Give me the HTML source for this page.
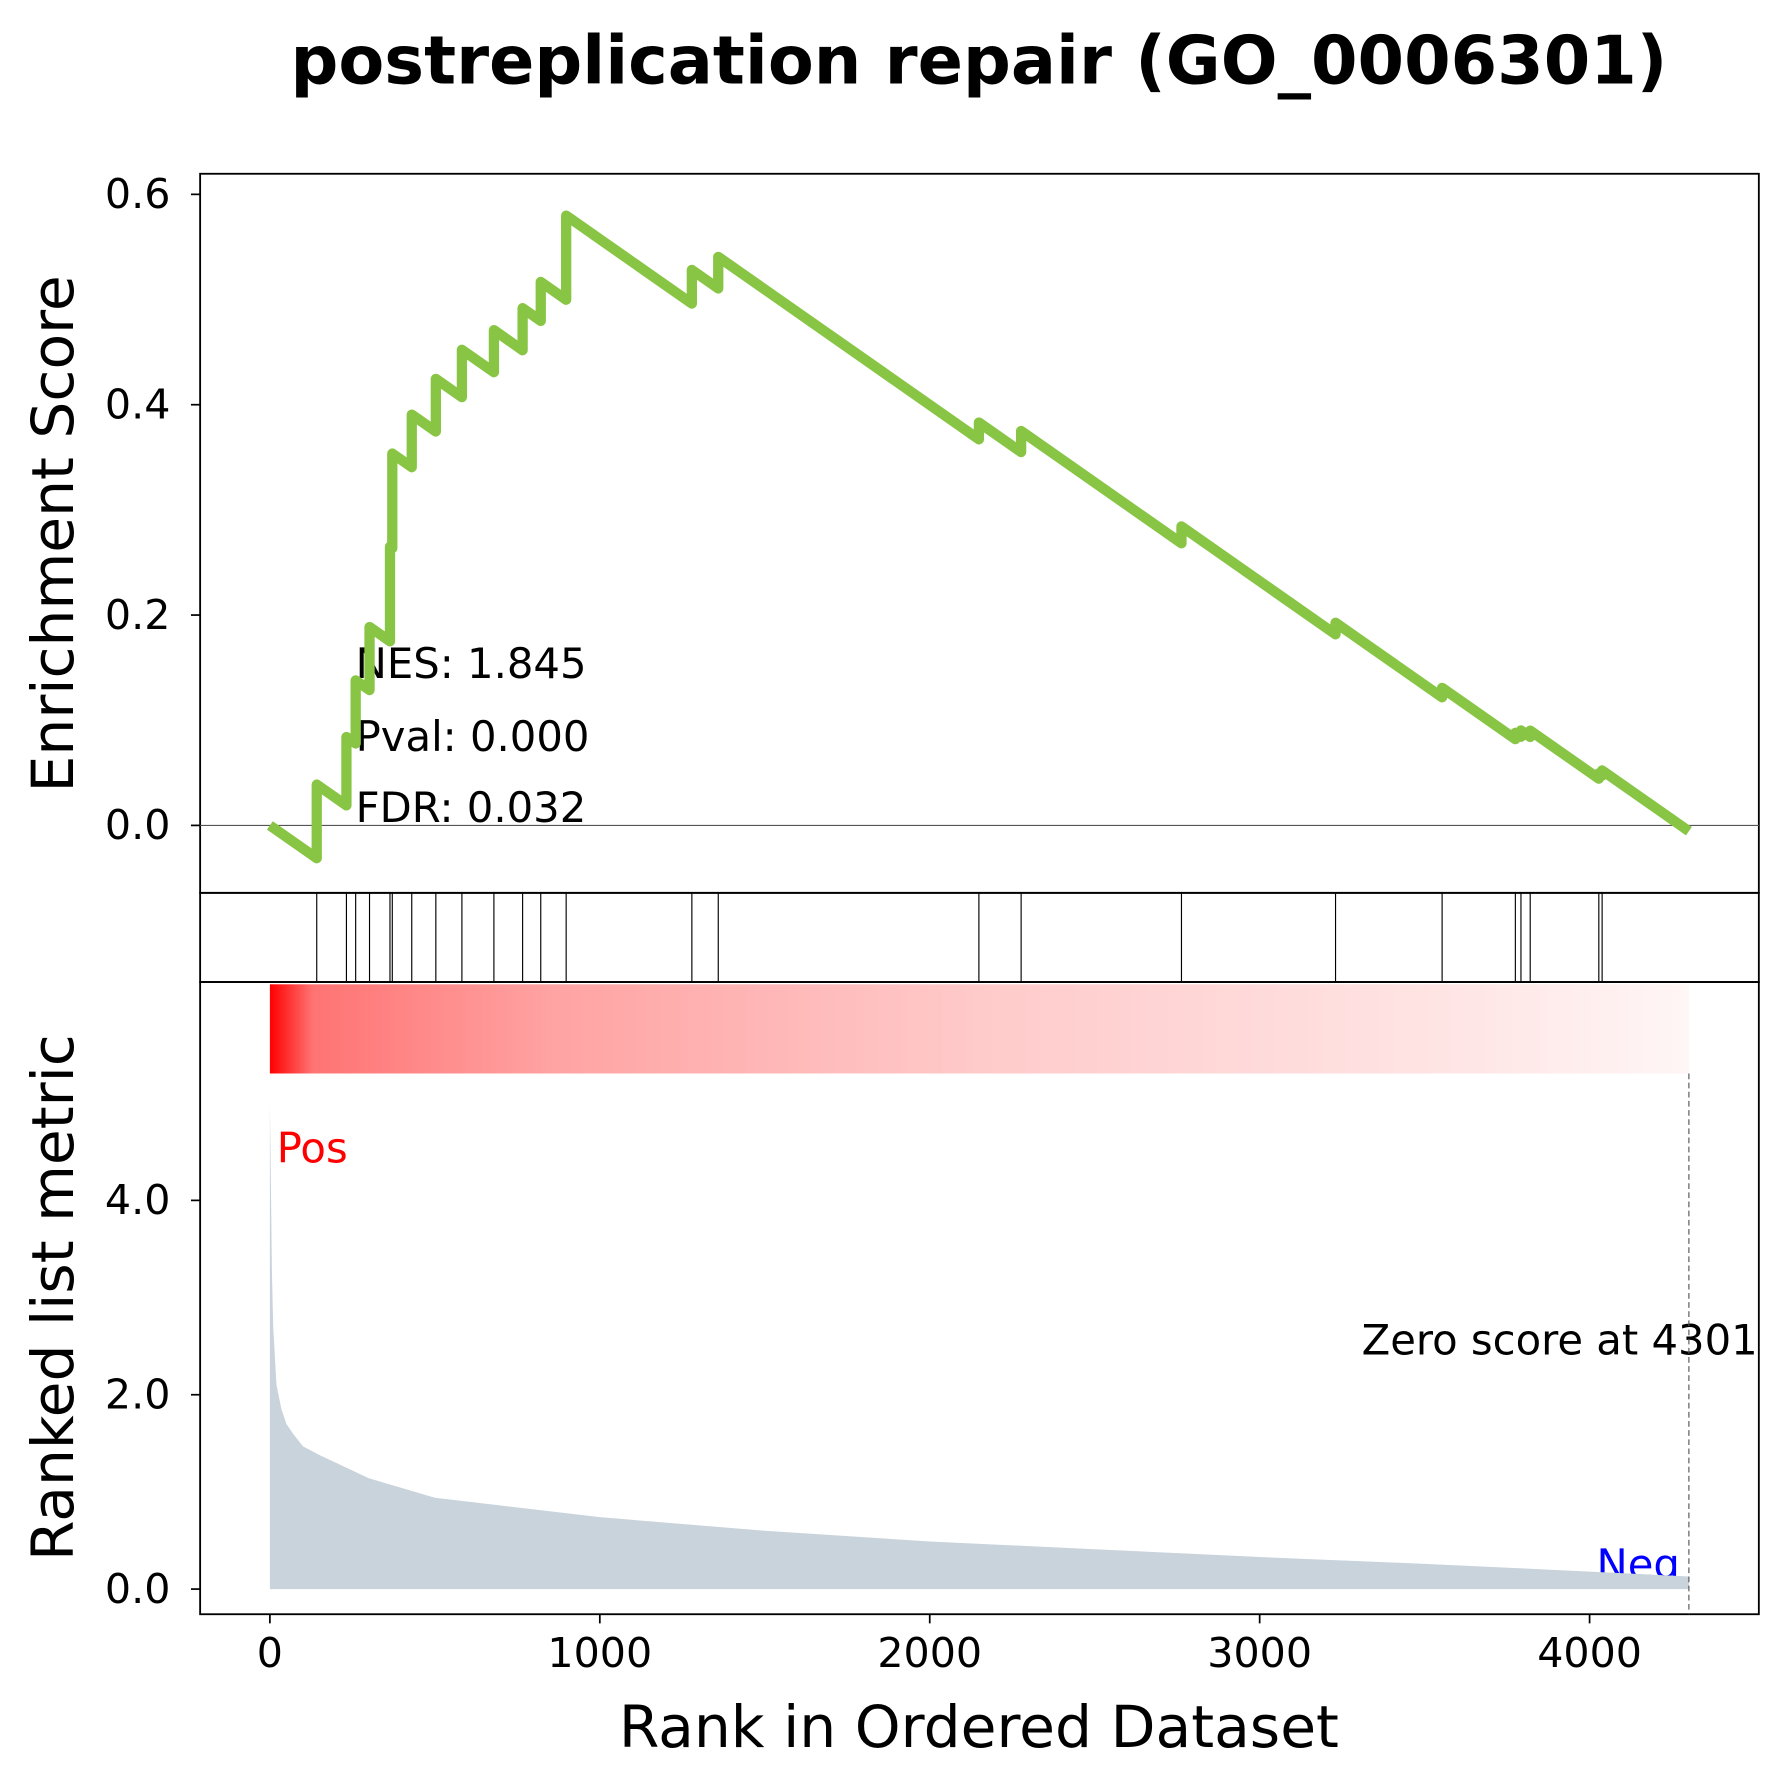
<!DOCTYPE html>
<html><head><meta charset="utf-8"><style>
html,body{margin:0;padding:0;background:#fff;}
svg{display:block;font-family:"DejaVu Sans","Liberation Sans",sans-serif;}
</style></head><body>
<svg id="chart" width="1792" height="1788" viewBox="0 0 1567 1564" preserveAspectRatio="none" xmlns="http://www.w3.org/2000/svg">
<defs>
<linearGradient id="rg" x1="0" x2="1" y1="0" y2="0">
<stop offset="0" stop-color="#ff0000"/><stop offset="0.03" stop-color="#ff7373"/>
<stop offset="0.2" stop-color="#ffa3a3"/><stop offset="0.5" stop-color="#ffcaca"/>
<stop offset="0.85" stop-color="#ffe6e6"/><stop offset="1" stop-color="#fff6f6"/>
</linearGradient>
</defs>
<text x="856" y="73" font-size="58.5" font-weight="bold" text-anchor="middle">postreplication repair (GO_0006301)</text>
<rect x="175" y="152" width="1363" height="629" fill="none" stroke="#000" stroke-width="1.6"/>
<rect x="175" y="781" width="1363" height="78" fill="none" stroke="#000" stroke-width="1.6"/>
<rect x="236" y="861" width="1241" height="78" fill="url(#rg)"/>
<rect x="175" y="859" width="1363" height="553" fill="none" stroke="#000" stroke-width="1.6"/>
<text transform="translate(64,467) rotate(-90)" font-size="51" text-anchor="middle">Enrichment Score</text>
<text transform="translate(64,1135) rotate(-90)" font-size="51" text-anchor="middle">Ranked list metric</text>
<text x="856" y="1528" font-size="51" text-anchor="middle">Rank in Ordered Dataset</text>
<text x="311" y="593" font-size="36.5">NES: 1.845</text>
<text x="311" y="657" font-size="36.5">Pval: 0.000</text>
<text x="311" y="719" font-size="36.5">FDR: 0.032</text>
<text x="242" y="1017" font-size="36.5" fill="#ff0000">Pos</text>
<text x="1469" y="1381" font-size="36.5" fill="#0000ff" text-anchor="end">Neg</text>
<text x="1537" y="1185" font-size="36.5" text-anchor="end">Zero score at 4301</text>
</svg>
<script>
const hitRanks=[142,232,260,302,364,371,430,503,582,679,766,821,898,1279,1359,2149,2277,2763,3230,3553,3775,3792,3820,4028,4038];
const hitJumps=[0.07,0.065,0.06,0.06,0.09,0.09,0.05,0.05,0.045,0.04,0.04,0.037,0.08,0.032,0.03,0.016,0.02,0.016,0.011,0.009,0.006,0.006,0.006,0.005,0.005];
const metricRanks=[0,3,6,10,20,35,50,70,100,150,200,300,400,500,700,1000,1500,2000,2500,3000,3500,4000,4301];
const metricValues=[5.0,4.2,3.3,2.7,2.1,1.85,1.7,1.6,1.47,1.38,1.3,1.14,1.04,0.94,0.86,0.74,0.6,0.49,0.41,0.33,0.26,0.18,0.13];
const nGenes=4301;
const xTicks=[0,1000,2000,3000,4000];
const esTicks=[0.0,0.2,0.4,0.6];
const metricTicks=[0.0,2.0,4.0];
const NS="http://www.w3.org/2000/svg";
const svg=document.getElementById('chart');
const xs=r=>236+r*(1390-236)/4000;
const yES=v=>722-v*920;
const yM=v=>1390-v*85;
function mk(tag,attrs){const e=document.createElementNS(NS,tag);for(const k in attrs)e.setAttribute(k,attrs[k]);svg.appendChild(e);return e;}
let z=mk('line',{x1:175,x2:1538,y1:yES(0),y2:yES(0),stroke:'#555','stroke-width':1});


const total=hitJumps.reduce((a,b)=>a+b,0);
const d=total/(nGenes-hitRanks.length);
let pts=[[0,0]],es=0,prev=0;
hitRanks.forEach((r,i)=>{es-=d*(r-prev);pts.push([r,es]);es+=hitJumps[i];pts.push([r,es]);prev=r;});
es-=d*(nGenes-prev);pts.push([nGenes,es]);
let esPath=mk('polyline',{points:pts.map(p=>xs(p[0])+','+yES(p[1])).join(' '),fill:'none',stroke:'#88c544','stroke-width':9,'stroke-linejoin':'round'});


hitRanks.forEach(r=>{const l=mk('line',{x1:xs(r),x2:xs(r),y1:781,y2:859,stroke:'#000','stroke-width':1});

});
let ap='M'+xs(0)+','+yM(0)+' '+metricRanks.map((r,i)=>'L'+xs(r)+','+yM(metricValues[i])).join(' ')+' L'+xs(nGenes)+','+yM(0)+'Z';
let area=mk('path',{d:ap,fill:'#c9d3dc'});


let zl=mk('line',{x1:xs(nGenes),x2:xs(nGenes),y1:939,y2:1412,stroke:'#555','stroke-width':1,'stroke-dasharray':'5,3'});


xTicks.forEach(t=>{const l=mk('line',{x1:xs(t),x2:xs(t),y1:1412,y2:1420,stroke:'#000','stroke-width':1.5});


const tx=mk('text',{x:xs(t),y:1458,'font-size':36,'text-anchor':'middle'});tx.textContent=String(t);

});
esTicks.forEach(t=>{const l=mk('line',{x1:167,x2:175,y1:yES(t),y2:yES(t),stroke:'#000','stroke-width':1.5});


const tx=mk('text',{x:149,y:yES(t)+12,'font-size':36,'text-anchor':'end'});tx.textContent=t.toFixed(1);

});
metricTicks.forEach(t=>{const l=mk('line',{x1:167,x2:175,y1:yM(t),y2:yM(t),stroke:'#000','stroke-width':1.5});


const tx=mk('text',{x:149,y:yM(t)+12,'font-size':36,'text-anchor':'end'});tx.textContent=t.toFixed(1);

});
</script>
</body></html>
